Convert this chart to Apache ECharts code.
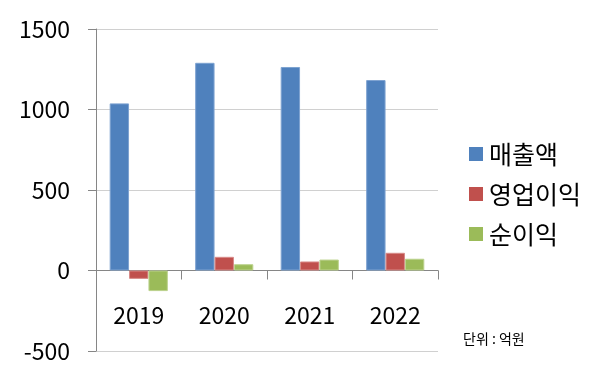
<!DOCTYPE html>
<html><head><meta charset="utf-8">
<script src="https://cdn.jsdelivr.net/npm/echarts@6/dist/echarts.min.js"></script>
<style>html,body{margin:0;padding:0;background:#fff}#c{width:600px;height:381px}</style>
</head><body><div id="c"></div>
<script>
const categories = ['2019','2020','2021','2022'];
const seriesNames = ['매출액','영업이익','순이익'];
const revenue = [1038, 1290, 1264, 1183];
const operatingProfit = [-52, 85, 56, 110];
const netProfit = [-128, 39, 68, 73];
const unitLabel = '단위 : 억원';
const FONT = '"Noto Sans CJK KR", "Noto Sans", sans-serif';
const colors = ['#4F81BD','#C0504D','#9BBB59'];
const borders = ['#7EA3D1','#D88A88','#BCD28E'];
const chart = echarts.init(document.getElementById('c'));
const vals = [revenue, operatingProfit, netProfit];
chart.setOption({
  animation:false,
  textStyle:{fontFamily:FONT},
  grid:{left:96,right:162,top:29,bottom:30,containLabel:false,outerBoundsMode:'none'},
  legend:{orient:'vertical',left:464,top:136,icon:'rect',itemWidth:14,itemHeight:14,itemGap:14,
    itemStyle:{borderWidth:0},
    textStyle:{fontSize:25,color:'#000',fontFamily:FONT,lineHeight:26,padding:[0,0,0,1]},
    data:seriesNames},
  graphic:[{type:'text',left:463,top:332,style:{text:unitLabel,fontSize:14,fill:'#000',fontFamily:FONT}}],
  xAxis:{type:'category',data:categories,
    axisLine:{onZero:true,lineStyle:{color:'#868686',width:1}},
    axisTick:{show:true,length:9,lineStyle:{color:'#868686'}},
    axisLabel:{fontSize:23,color:'#000',margin:-47,fontFamily:FONT},
    splitLine:{show:false}},
  yAxis:{type:'value',min:-500,max:1500,interval:500,
    axisLine:{show:true,lineStyle:{color:'#868686'}},
    axisTick:{show:true,length:8,lineStyle:{color:'#868686'}},
    axisLabel:{fontSize:23,color:'#000',margin:26,fontFamily:FONT,formatter:v=>String(v)},
    splitLine:{lineStyle:{color:'#D0D0D0'}}},
  series: seriesNames.map((n,i)=>({name:n,type:'bar',data:vals[i],barGap:'0%',barCategoryGap:'32%',
    itemStyle:{color:colors[i],borderColor:borders[i],borderWidth:1}}))
});
</script></body></html>
